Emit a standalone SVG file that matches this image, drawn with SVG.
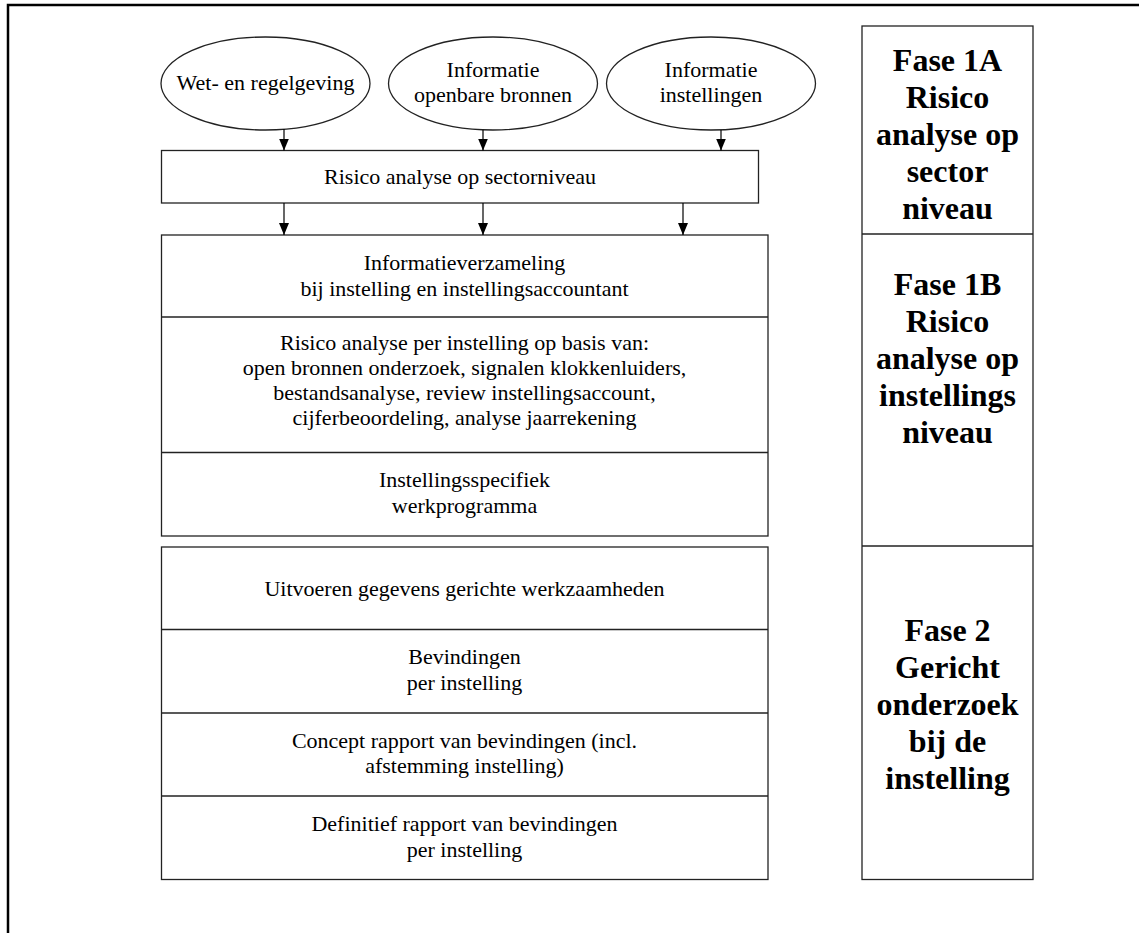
<svg xmlns="http://www.w3.org/2000/svg" width="1139" height="933" viewBox="0 0 1139 933">
<style>
  .frame { fill: none; stroke: #000; stroke-width: 2.5; }
  .box { fill: #fff; stroke: #222; stroke-width: 1.3; }
  .div { stroke: #222; stroke-width: 1.3; }
  .t { font-family: "Liberation Serif", "Times New Roman", serif; font-size: 22px; fill: #000; text-anchor: middle; }
  .b { font-family: "Liberation Serif", "Times New Roman", serif; font-size: 32px; font-weight: bold; fill: #000; text-anchor: middle; }
  .con { stroke: #000; stroke-width: 1.2; fill: none; marker-end: url(#arr); }
</style>
<defs>
  <marker id="arr" viewBox="0 0 12 12" refX="12" refY="6" markerWidth="12" markerHeight="12" markerUnits="userSpaceOnUse" orient="auto">
    <path d="M0,1 L12,6 L0,11 z" fill="#000"/>
  </marker>
</defs>
<rect width="1139" height="933" fill="#fff"/>
<rect class="frame" x="8" y="5" width="1200" height="1000"/>

<g id="wet">
  <ellipse class="box" cx="265.5" cy="83.5" rx="104.5" ry="46.5"/>
  <text class="t" x="265.5" y="90">Wet- en regelgeving</text>
</g>
<g id="info-openbaar">
  <ellipse class="box" cx="493" cy="83.5" rx="104.5" ry="46.5"/>
  <text class="t" x="493" y="77">Informatie</text>
  <text class="t" x="493" y="102">openbare bronnen</text>
</g>
<g id="info-instellingen">
  <ellipse class="box" cx="711" cy="83.5" rx="104.5" ry="46.5"/>
  <text class="t" x="711" y="77">Informatie</text>
  <text class="t" x="711" y="102">instellingen</text>
</g>

<g id="sector">
  <rect class="box" x="161.5" y="150.5" width="597" height="52.5"/>
  <text class="t" x="460" y="184">Risico analyse op sectorniveau</text>
</g>

<g id="fase1b-blok">
  <rect class="box" x="161.5" y="235" width="606.5" height="301"/>
  <line class="div" x1="161.5" y1="317" x2="768" y2="317"/>
  <line class="div" x1="161.5" y1="452.5" x2="768" y2="452.5"/>
</g>
<g id="informatieverzameling">
  <text class="t" x="464.5" y="270">Informatieverzameling</text>
  <text class="t" x="464.5" y="296">bij instelling en instellingsaccountant</text>
</g>
<g id="risico-instelling">
  <text class="t" x="464.5" y="350">Risico analyse per instelling op basis van:</text>
  <text class="t" x="464.5" y="375">open bronnen onderzoek, signalen klokkenluiders,</text>
  <text class="t" x="464.5" y="400">bestandsanalyse, review instellingsaccount,</text>
  <text class="t" x="464.5" y="425">cijferbeoordeling, analyse jaarrekening</text>
</g>
<g id="werkprogramma">
  <text class="t" x="464.5" y="487">Instellingsspecifiek</text>
  <text class="t" x="464.5" y="513">werkprogramma</text>
</g>

<g id="fase2-blok">
  <rect class="box" x="161.5" y="547" width="606.5" height="332.5"/>
  <line class="div" x1="161.5" y1="629.5" x2="768" y2="629.5"/>
  <line class="div" x1="161.5" y1="713" x2="768" y2="713"/>
  <line class="div" x1="161.5" y1="796" x2="768" y2="796"/>
</g>
<g id="uitvoeren">
  <text class="t" x="464.5" y="596">Uitvoeren gegevens gerichte werkzaamheden</text>
</g>
<g id="bevindingen">
  <text class="t" x="464.5" y="664">Bevindingen</text>
  <text class="t" x="464.5" y="690">per instelling</text>
</g>
<g id="concept">
  <text class="t" x="464.5" y="748">Concept rapport van bevindingen (incl.</text>
  <text class="t" x="464.5" y="773">afstemming instelling)</text>
</g>
<g id="definitief">
  <text class="t" x="464.5" y="831">Definitief rapport van bevindingen</text>
  <text class="t" x="464.5" y="857">per instelling</text>
</g>

<g id="fasen">
  <rect class="box" x="862" y="26" width="171" height="853.5"/>
  <line class="div" x1="862" y1="234" x2="1033" y2="234"/>
  <line class="div" x1="862" y1="546" x2="1033" y2="546"/>
</g>
<g id="fase1a">
  <text class="b" x="947.5" y="71">Fase 1A</text>
  <text class="b" x="947.5" y="108">Risico</text>
  <text class="b" x="947.5" y="145">analyse op</text>
  <text class="b" x="947.5" y="182">sector</text>
  <text class="b" x="947.5" y="219">niveau</text>
</g>
<g id="fase1b">
  <text class="b" x="947.5" y="295">Fase 1B</text>
  <text class="b" x="947.5" y="332">Risico</text>
  <text class="b" x="947.5" y="369">analyse op</text>
  <text class="b" x="947.5" y="406">instellings</text>
  <text class="b" x="947.5" y="443">niveau</text>
</g>
<g id="fase2">
  <text class="b" x="947.5" y="641">Fase 2</text>
  <text class="b" x="947.5" y="678">Gericht</text>
  <text class="b" x="947.5" y="715">onderzoek</text>
  <text class="b" x="947.5" y="752">bij de</text>
  <text class="b" x="947.5" y="789">instelling</text>
</g>

<g id="connectors">
  <line class="con" x1="284" y1="129" x2="284" y2="150.5"/>
  <line class="con" x1="483" y1="130" x2="483" y2="150.5"/>
  <line class="con" x1="721" y1="130" x2="721" y2="150.5"/>
  <line class="con" x1="284" y1="203" x2="284" y2="235"/>
  <line class="con" x1="483" y1="203" x2="483" y2="235"/>
  <line class="con" x1="683" y1="203" x2="683" y2="235"/>
</g>
</svg>
